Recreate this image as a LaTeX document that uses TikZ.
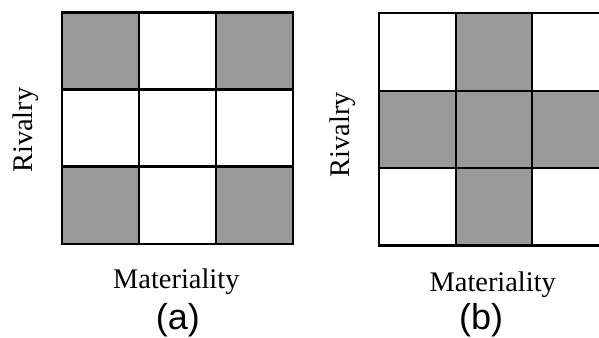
\documentclass[tikz,border=0pt]{standalone}
\usepackage{fontspec}
\setmainfont{Liberation Serif}
\setsansfont{Liberation Sans}
\usepackage{tikz}
\usetikzlibrary{positioning}

\tikzset{
  shade cell/.style={fill=black!40},
  grid line/.style={line width=0.9pt},
  axis label/.style={font=\fontsize{10.5}{12}\selectfont, inner sep=0pt},
  panel label/.style={font=\sffamily\fontsize{13.3}{15}\selectfont, inner sep=0pt}
}

\begin{document}
\begin{tikzpicture}
\useasboundingbox (0,0) rectangle (7.78,4.39);

% panel (a): shaded corners
\fill[shade cell] (0.805,3.225) rectangle (1.805,4.23);
\fill[shade cell] (2.805,3.225) rectangle (3.805,4.23);
\fill[shade cell] (0.805,1.22) rectangle (1.805,2.225);
\fill[shade cell] (2.805,1.22) rectangle (3.805,2.225);
\draw[grid line] (0.805,1.22) rectangle (3.805,4.23);
\draw[grid line] (1.805,1.22) -- (1.805,4.23);
\draw[grid line] (2.805,1.22) -- (2.805,4.23);
\draw[grid line] (0.805,2.225) -- (3.805,2.225);
\draw[grid line] (0.805,3.225) -- (3.805,3.225);

% panel (b): shaded cross, cut at the right edge
\fill[shade cell] (5.92,3.21) rectangle (6.91,4.22);
\fill[shade cell] (4.92,2.21) rectangle (7.78,3.21);
\fill[shade cell] (5.92,1.2) rectangle (6.91,2.21);
\draw[grid line] (7.78,4.22) -- (4.92,4.22) -- (4.92,1.2) -- (7.78,1.2);
\draw[grid line] (5.92,1.2) -- (5.92,4.22);
\draw[grid line] (6.91,1.2) -- (6.91,4.22);
\draw[grid line] (4.92,2.21) -- (7.78,2.21);
\draw[grid line] (4.92,3.21) -- (7.78,3.21);

\node[axis label, rotate=90] (rivA) at (0.33,2.70) {Rivalry};
\node[axis label] (matA) at (2.29,0.73) {Materiality};
\node[panel label] (capA) at (2.31,0.23) {(a)};

\node[axis label, rotate=90] (rivB) at (4.45,2.64) {Rivalry};
\node[axis label] (matB) at (6.40,0.69) {Materiality};
\node[panel label] (capB) at (6.25,0.23) {(b)};
\end{tikzpicture}
\end{document}
